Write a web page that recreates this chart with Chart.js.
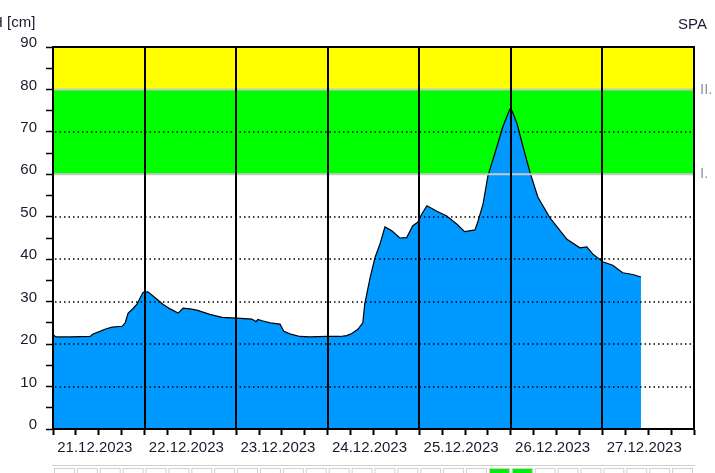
<!DOCTYPE html>
<html>
<head>
<meta charset="utf-8">
<script src="https://cdn.jsdelivr.net/npm/chart.js@4.4.0/dist/chart.umd.min.js"></script>
<style>
    html, body { margin: 0; padding: 0; background: #fff; }
    #wrap { width: 715px; height: 473px; }
</style>
</head>
<body>
<div id="wrap"><canvas id="levelChart" width="715" height="473"></canvas></div>
<script>
// Water level H [cm], hours counted from 21.12.2023 00:00
const hours = [0, 0.8, 4.5, 9.7, 10.5, 12.3, 13.6, 15.5, 18.1, 18.9, 19.7, 21.0, 22.0, 23.6,
    24.9, 26.7, 28.8, 30.7, 32.8, 34.1, 35.9, 37.7, 41.1, 44.3, 48.2, 52.1, 53.2, 53.7, 54.8,
    56.9, 59.5, 60.5, 62.1, 64.7, 67.3, 71.8, 75.2, 77.0, 78.3, 79.9, 81.2, 81.7, 83.1, 84.4,
    85.7, 87.0, 88.8, 90.9, 92.7, 94.3, 95.6, 96.7, 98.0, 100.6, 103.2, 105.8, 107.9, 110.6,
    111.3, 112.7, 114.0, 115.8, 117.9, 119.7, 120.3, 121.6, 123.1, 125.0, 127.1, 130.2,
    134.7, 138.1, 139.9, 141.5, 144.1, 146.7, 149.3, 152.0, 154.1];
const levels = [22.2, 21.7, 21.7, 21.8, 22.4, 23.0, 23.5, 24.0, 24.2, 25.0, 27.3, 28.4, 29.4, 32.2,
    32.3, 31.0, 29.4, 28.3, 27.3, 28.5, 28.3, 28.0, 27.0, 26.3, 26.1, 25.9, 25.3, 25.8, 25.5,
    25.0, 24.7, 23.0, 22.4, 21.8, 21.7, 21.8, 21.8, 22.0, 22.5, 23.5, 25.0, 29.4, 35.6, 40.4,
    43.6, 47.6, 46.7, 45.0, 45.1, 47.9, 48.7, 50.7, 52.6, 51.3, 50.2, 48.3, 46.5, 46.9,
    48.7, 53.0, 59.7, 64.9, 71.2, 75.3, 75.0, 72.0, 66.8, 60.5, 54.6, 49.8,
    44.7, 42.7, 42.9, 41.2, 39.4, 38.6, 36.8, 36.4, 35.8];

const dayLabels = ['21.12.2023', '22.12.2023', '23.12.2023', '24.12.2023',
    '25.12.2023', '26.12.2023', '27.12.2023'];

// flood stage limits and their names
const stageLimits = [60, 80, 90];
const stageNames = ['I.', 'II.'];

// 6-hour cells of the strip under the chart (1 = stage I. reached)
const stageCells = [0, 0, 0, 0, 0, 0, 0, 0, 0, 0, 0, 0, 0, 0,
    0, 0, 0, 0, 0, 1, 1, 0, 0, 0, 0, 0, 0, 0];

const FONT = 'Liberation Sans, Arial, sans-serif';

const stagePlugin = {
    id: 'stages',
    beforeDatasetsDraw(chart) {
        const { ctx, chartArea, scales: { y } } = chart;
        const bandColors = ['#00ff00', '#ffff00'];
        ctx.save();
        for (let i = 0; i < stageLimits.length - 1; i++) {
            const top = y.getPixelForValue(stageLimits[i + 1]);
            const bottom = y.getPixelForValue(stageLimits[i]);
            ctx.fillStyle = bandColors[i];
            ctx.fillRect(chartArea.left, top, chartArea.right - chartArea.left, bottom - top);
        }
        ctx.restore();
    },
    afterDatasetsDraw(chart) {
        const { ctx, chartArea, scales: { x, y } } = chart;
        ctx.save();
        // threshold lines
        ctx.strokeStyle = '#c8c8c8';
        ctx.lineWidth = 2;
        for (let i = 0; i < stageNames.length; i++) {
            const py = y.getPixelForValue(stageLimits[i]);
            ctx.beginPath();
            ctx.moveTo(chartArea.left, py);
            ctx.lineTo(chartArea.right, py);
            ctx.stroke();
        }
        // dotted horizontal grid over the fill
        ctx.strokeStyle = '#000';
        ctx.lineWidth = 1.5;
        ctx.setLineDash([1.5, 3]);
        y.ticks.forEach(t => {
            const v = t.value;
            if (v % 10 !== 0 || v <= 0 || v >= 90 || stageLimits.includes(v)) return;
            const py = Math.round(y.getPixelForValue(v));
            ctx.beginPath();
            ctx.moveTo(chartArea.left + 2, py);
            ctx.lineTo(chartArea.right, py);
            ctx.stroke();
        });
        // day lines
        ctx.setLineDash([]);
        ctx.lineWidth = 2;
        x.ticks.forEach(t => {
            if (t.value % 24 !== 0) return;
            const px = Math.round(x.getPixelForValue(t.value));
            ctx.beginPath();
            ctx.moveTo(px, chartArea.top);
            ctx.lineTo(px, chartArea.bottom);
            ctx.stroke();
        });
        ctx.restore();
    },
    afterDraw(chart) {
        const { ctx, chartArea, scales: { x, y } } = chart;
        ctx.save();
        // frame
        ctx.strokeStyle = '#000';
        ctx.lineWidth = 2;
        ctx.strokeRect(chartArea.left, chartArea.top, chartArea.right - chartArea.left,
            chartArea.bottom - chartArea.top);

        // texts
        ctx.font = '15px ' + FONT;
        ctx.fillStyle = '#1a1a2e';
        ctx.textBaseline = 'middle';
        ctx.textAlign = 'left';
        ctx.fillText('H [cm]', -8, 23);
        ctx.textAlign = 'right';
        ctx.fillText('SPA', 707, 25);

        ctx.textAlign = 'left';
        ctx.fillStyle = '#8a97ab';
        for (let i = 0; i < stageNames.length; i++) {
            ctx.fillText(stageNames[i], chartArea.right + 6, y.getPixelForValue(stageLimits[i]));
        }

        // strip of 6-hour cells
        ctx.strokeStyle = '#cfcfcf';
        ctx.lineWidth = 1;
        ctx.beginPath();
        ctx.moveTo(chartArea.left - 1, 465.5);
        ctx.lineTo(chartArea.right + 1, 465.5);
        ctx.stroke();
        stageCells.forEach((c, k) => {
            const x0 = x.getPixelForValue(k * 6);
            const x1 = x.getPixelForValue((k + 1) * 6);
            ctx.fillStyle = c ? '#00ee00' : '#ffffff';
            ctx.fillRect(x0 + 1, 468, x1 - x0 - 2, 8);
            ctx.strokeStyle = '#d0d0d0';
            ctx.strokeRect(x0 + 1.5, 468.5, x1 - x0 - 3, 8);
        });
        ctx.restore();
    }
};

document.addEventListener('DOMContentLoaded', function() {
    const ctx = document.getElementById('levelChart');

    new Chart(ctx, {
        type: 'line',
        data: {
            datasets: [{
                data: hours.map((h, i) => ({ x: h, y: levels[i] })),
                borderColor: '#000',
                borderWidth: 1.2,
                backgroundColor: '#0099ff',
                fill: 'origin',
                pointRadius: 0,
                tension: 0
            }]
        },
        options: {
            responsive: false,
            animation: false,
            events: [],
            layout: {
                padding: { top: 47, right: 21, left: 0, bottom: 0 }
            },
            plugins: {
                legend: { display: false },
                tooltip: { enabled: false }
            },
            scales: {
                x: {
                    type: 'linear',
                    min: 0,
                    max: 168,
                    afterFit: scale => { scale.height = 44; },
                    afterBuildTicks: scale => {
                        const t = [];
                        for (let v = 0; v <= 168; v += 6) t.push({ value: v });
                        scale.ticks = t;
                    },
                    ticks: {
                        autoSkip: false,
                        maxRotation: 0,
                        padding: 4,
                        labelOffset: -4,
                        color: '#1a1a2e',
                        font: { family: FONT, size: 15 },
                        callback: value => (value % 24 === 12 ? dayLabels[(value - 12) / 24] : '')
                    },
                    grid: {
                        drawOnChartArea: false,
                        color: '#000',
                        tickColor: '#000',
                        tickWidth: 2,
                        tickLength: 6
                    },
                    border: { display: true, color: '#000', width: 2 }
                },
                y: {
                    min: 0,
                    max: 90,
                    afterFit: scale => { scale.width = 53; },
                    afterBuildTicks: scale => {
                        const t = [];
                        for (let v = 0; v <= 90; v += 5) t.push({ value: v });
                        scale.ticks = t;
                    },
                    ticks: {
                        padding: 9,
                        labelOffset: -4,
                        color: '#1a1a2e',
                        font: { family: FONT, size: 15 },
                        callback: value => (value % 10 === 0 ? String(value) : '')
                    },
                    grid: {
                        drawOnChartArea: false,
                        color: '#000',
                        tickColor: '#000',
                        tickWidth: 1.5,
                        tickLength: 7
                    },
                    border: { display: true, color: '#000', width: 2 }
                }
            }
        },
        plugins: [stagePlugin]
    });
});
</script>
</body>
</html>
